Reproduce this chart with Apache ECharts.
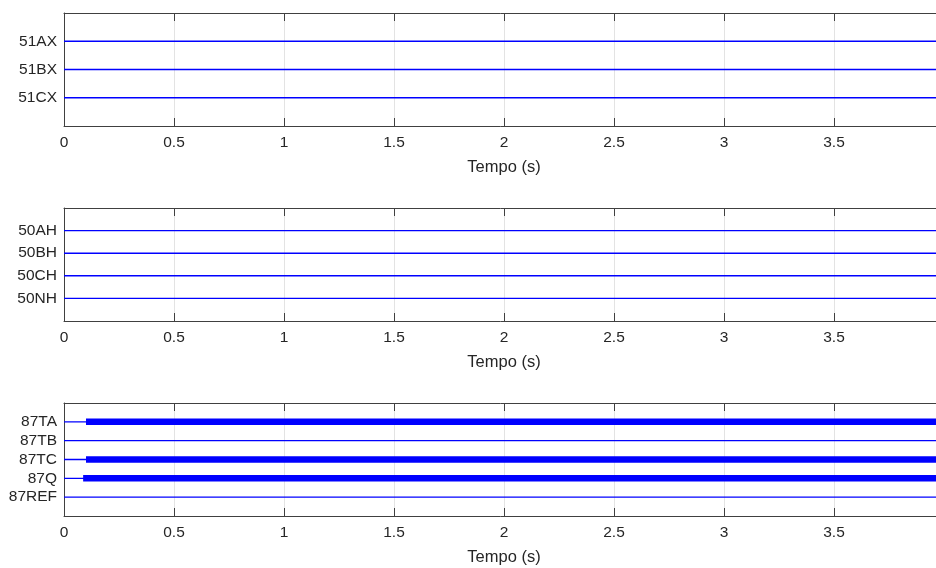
<!DOCTYPE html>
<html>
<head>
<meta charset="utf-8">
<script src="https://cdn.jsdelivr.net/npm/echarts@6/dist/echarts.min.js"></script>
<style>
  html, body { margin: 0; padding: 0; background: #ffffff; }
  #chart { width: 936px; height: 568px; }
</style>
</head>
<body>
<div id="chart"></div>
<script>
// Sinais de atuação das funções de proteção
const tempoInicial = 0;
const tempoFinal = 4;
const passoTempo = 0.5;

const sinais51 = ['51AX', '51BX', '51CX'];
const sinais50 = ['50AH', '50BH', '50CH', '50NH'];
const sinais87 = ['87TA', '87TB', '87TC', '87Q', '87REF'];

// Instante (s) em que cada sinal passa a atuar; null = não atua
const atuacao51 = [null, null, null];
const atuacao50 = [null, null, null, null];
const atuacao87 = [0.10, null, 0.10, 0.087, null];

const paineis = [
  { nomes: sinais51, atuacao: atuacao51 },
  { nomes: sinais50, atuacao: atuacao50 },
  { nomes: sinais87, atuacao: atuacao87 }
];

const corTexto = '#262626';
const corEixo = '#404040';
const corSinal = '#0000ff';
const fonte = 'Liberation Sans, Arial, Helvetica, sans-serif';

const topos = [13, 208, 403];
const grids = [], xAxes = [], yAxes = [], series = [];

paineis.forEach((p, i) => {
  // a área de plotagem continua além da borda direita da janela
  grids.push({ left: 64, right: -8, top: topos[i], height: 113, outerBoundsMode: 'none', containLabel: false });

  // eixo inferior com rótulos e grade vertical
  xAxes.push({
    type: 'value', gridIndex: i, position: 'bottom',
    min: tempoInicial, max: tempoFinal, interval: passoTempo,
    name: 'Tempo (s)', nameLocation: 'middle', nameGap: 33,
    nameTextStyle: { color: corTexto, fontSize: 16.5, fontFamily: fonte },
    axisLine: { show: true, onZero: false, lineStyle: { color: corEixo, width: 1 } },
    axisTick: { show: true, inside: true, length: 8, lineStyle: { color: corEixo } },
    axisLabel: { color: corTexto, fontSize: 15.5, fontFamily: fonte, margin: 9 },
    splitLine: { show: true, lineStyle: { color: '#e3e3e3', width: 1 } }
  });
  // eixo superior: só a borda e as marcas
  xAxes.push({
    type: 'value', gridIndex: i, position: 'top',
    min: tempoInicial, max: tempoFinal, interval: passoTempo,
    axisLine: { show: true, onZero: false, lineStyle: { color: corEixo, width: 1 } },
    axisTick: { show: true, inside: true, length: 8, lineStyle: { color: corEixo } },
    axisLabel: { show: false },
    splitLine: { show: false }
  });

  const n = p.nomes.length;
  yAxes.push({
    type: 'value', gridIndex: i, inverse: true,
    min: 0, max: n + 1, interval: 1,
    axisLine: { show: true, onZero: false, lineStyle: { color: corEixo, width: 1 } },
    axisTick: { show: false },
    splitLine: { show: false },
    axisLabel: {
      color: corTexto, fontSize: 15.5, fontFamily: fonte, margin: 7,
      formatter: v => (v >= 1 && v <= n) ? p.nomes[v - 1] : ''
    }
  });

  p.nomes.forEach((nome, k) => {
    const nivel = k + 1;
    series.push({
      type: 'line', name: nome, xAxisIndex: 2 * i, yAxisIndex: i,
      data: [[tempoInicial, nivel], [tempoFinal, nivel]],
      symbol: 'none', silent: true,
      lineStyle: { color: corSinal, width: 1.4 }
    });
    const t0 = p.atuacao[k];
    if (t0 !== null) {
      series.push({
        type: 'line', name: nome + ' (atuação)', xAxisIndex: 2 * i, yAxisIndex: i,
        data: [[t0, nivel], [tempoFinal, nivel]],
        symbol: 'none', silent: true,
        lineStyle: { color: corSinal, width: 6.5, cap: 'butt' }
      });
    }
  });
});

const chart = echarts.init(document.getElementById('chart'), null, { renderer: 'canvas' });
chart.setOption({
  animation: false,
  backgroundColor: '#ffffff',
  grid: grids,
  xAxis: xAxes,
  yAxis: yAxes,
  series: series
});
</script>
</body>
</html>
